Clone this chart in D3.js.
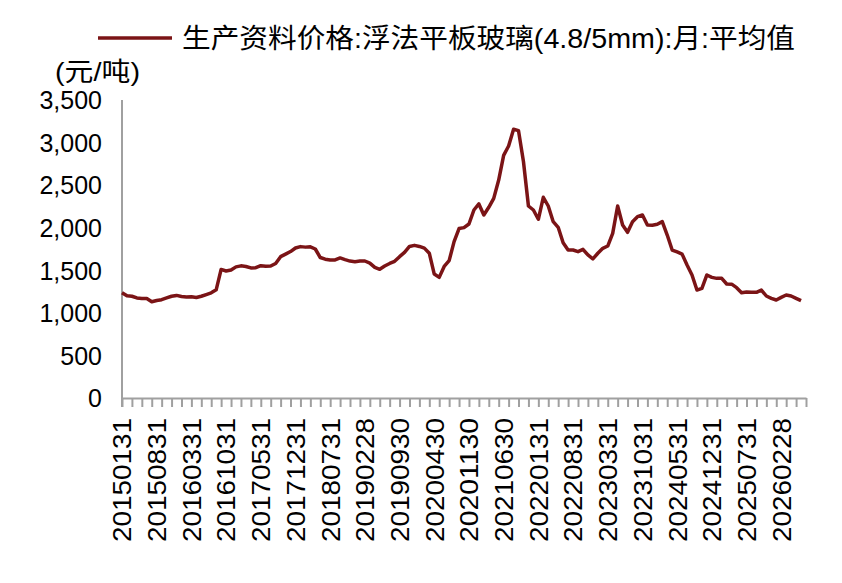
<!DOCTYPE html>
<html>
<head>
<meta charset="utf-8">
<script src="https://cdn.jsdelivr.net/npm/d3@7"></script>
<style>
    body { margin: 0; background: #fff; }
    text { font-family: "Liberation Sans", Arial, "Noto Sans CJK SC", sans-serif; fill: #000; }
</style>
</head>
<body>
<svg id="chart" width="842" height="583"></svg>
<script>
// monthly average, yuan per ton, from 2015-01
var prices = [
    1237, 1200, 1195, 1175, 1170, 1168, 1130, 1145, 1155, 1175,
    1195, 1205, 1192, 1185, 1188, 1180, 1195, 1215, 1235, 1270,
    1510, 1492, 1503, 1540, 1552, 1545, 1528, 1530, 1554, 1548,
    1550, 1580, 1660, 1690, 1720, 1762, 1778, 1772, 1775, 1750,
    1650, 1630, 1620, 1622, 1645, 1625, 1608, 1600, 1608, 1609,
    1585, 1535, 1512, 1550, 1580, 1605, 1660, 1710, 1780, 1793,
    1780, 1760, 1700, 1456, 1417, 1545, 1613, 1836, 1990, 2001,
    2044, 2208, 2279, 2150, 2240, 2345, 2560, 2850, 2960, 3156,
    3140, 2775, 2255, 2208, 2099, 2357, 2255, 2071, 2005, 1824,
    1738, 1738, 1719, 1746, 1680, 1633, 1700, 1758, 1785, 1934,
    2255, 2032, 1946, 2071, 2130, 2149, 2032, 2030, 2040, 2071,
    1914, 1738, 1715, 1690, 1562, 1445, 1268, 1288, 1445, 1417,
    1405, 1405, 1339, 1337, 1296, 1237, 1245, 1243, 1241, 1268,
    1198, 1171, 1151, 1182, 1210, 1198, 1170, 1143
];

var tickLabels = [
    '20150131', '20150831', '20160331', '20161031', '20170531',
    '20171231', '20180731', '20190228', '20190930', '20200430',
    '20201130', '20210630', '20220131', '20220831', '20230331',
    '20231031', '20240531', '20241231', '20250731', '20260228'
];

var yTicks = [0, 500, 1000, 1500, 2000, 2500, 3000, 3500];

var seriesName = '生产资料价格:浮法平板玻璃(4.8/5mm):月:平均值';
var unitLabel = '(元/吨)';

(function () {
    var options = {
        left: 122,
        right: 806,
        top: 100,
        bottom: 398,
        lineColor: '#7b1416',
        axisColor: '#a0a0a0'
    };

    // month-end categories, 2015-01 .. 2026-07
    var fmt = d3.utcFormat('%Y%m%d');
    var months = d3.utcMonth.range(new Date(Date.UTC(2015, 0, 1)), new Date(Date.UTC(2026, 7, 1)))
        .map(function (m) { return fmt(d3.utcDay.offset(d3.utcMonth.offset(m, 1), -1)); });

    var svg = d3.select('#chart');

    var x = d3.scaleLinear()
        .domain([0, months.length - 1])
        .range([options.left, options.right]);

    var y = d3.scaleLinear()
        .domain([0, 3500])
        .range([options.bottom, options.top]);

    // y axis
    var yAxis = svg.append('g')
        .attr('transform', 'translate(' + options.left + ',0)')
        .call(d3.axisLeft(y).tickValues(yTicks).tickSize(0).tickPadding(20).tickFormat(d3.format(',')));
    yAxis.select('.domain').remove();
    yAxis.selectAll('text')
        .style('font-size', '25px')
        .attr('dy', '0.35em');

    svg.append('line')
        .attr('x1', options.left).attr('x2', options.left)
        .attr('y1', options.top).attr('y2', options.bottom + 9)
        .attr('stroke', options.axisColor)
        .attr('stroke-width', 2);

    // x axis: ticks every two months
    var xAxis = svg.append('g')
        .attr('transform', 'translate(0,' + options.bottom + ')')
        .call(d3.axisBottom(x)
            .tickValues(d3.range(0, months.length, 2))
            .tickSize(9)
            .tickSizeOuter(0)
            .tickFormat(''));
    xAxis.select('.domain').attr('stroke', options.axisColor).attr('stroke-width', 2);
    xAxis.selectAll('.tick line').attr('stroke', options.axisColor).attr('stroke-width', 2);

    svg.append('g')
        .selectAll('text')
        .data(tickLabels)
        .enter()
        .append('text')
        .attr('transform', function (d) {
            return 'translate(' + x(months.indexOf(d)) + ',418) rotate(-90)';
        })
        .attr('text-anchor', 'end')
        .attr('dy', '0.36em')
        .attr('textLength', 124)
        .attr('lengthAdjust', 'spacingAndGlyphs')
        .style('font-size', '26px')
        .text(function (d) { return d; });

    // series line
    var line = d3.line()
        .x(function (d, i) { return x(i); })
        .y(function (d) { return y(d); });

    svg.append('path')
        .datum(prices)
        .attr('d', line)
        .attr('fill', 'none')
        .attr('stroke', options.lineColor)
        .attr('stroke-width', 3.5)
        .attr('stroke-linejoin', 'round');

    // legend
    svg.append('line')
        .attr('x1', 98).attr('x2', 172)
        .attr('y1', 38).attr('y2', 38)
        .attr('stroke', options.lineColor)
        .attr('stroke-width', 3.5);

    svg.append('text')
        .attr('x', 182)
        .attr('y', 38)
        .attr('dy', '0.36em')
        .attr('textLength', 613)
        .attr('lengthAdjust', 'spacingAndGlyphs')
        .style('font-size', '27px')
        .text(seriesName);

    svg.append('text')
        .attr('x', 55)
        .attr('y', 72)
        .attr('dy', '0.36em')
        .attr('textLength', 85)
        .attr('lengthAdjust', 'spacingAndGlyphs')
        .style('font-size', '26px')
        .text(unitLabel);
})();
</script>
</body>
</html>
